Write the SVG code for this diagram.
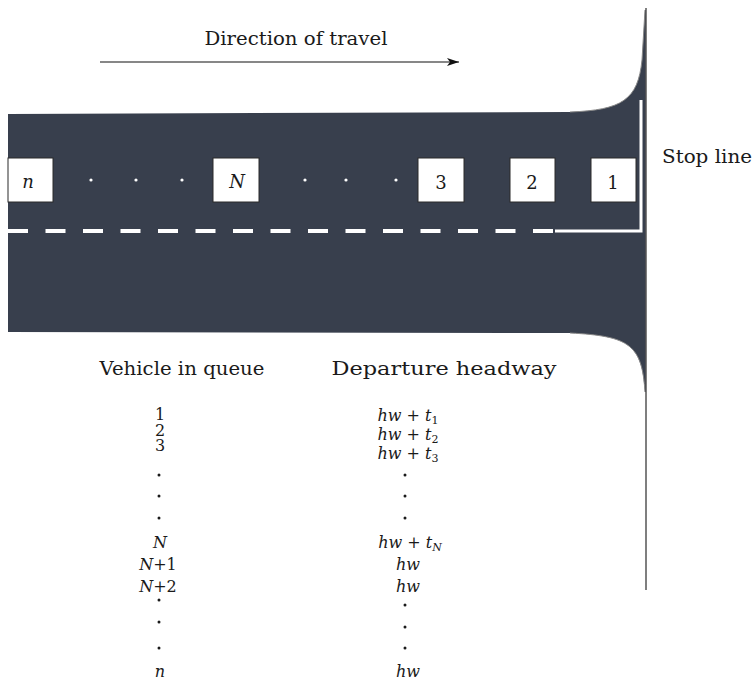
<svg xmlns="http://www.w3.org/2000/svg" width="756" height="684" viewBox="0 0 756 684">
<style>
text{font-family:"DejaVu Serif",serif;fill:#1a1a1a}
.lbl{font-size:18px;text-anchor:middle}
.it{font-style:italic}
.row{font-size:16px;text-anchor:middle}
.box rect{fill:#fff;stroke:#2a2a2a;stroke-width:1}
.dot{fill:#fff}
.bdot{fill:#1a1a1a}
</style>
<defs>
<marker id="ah" viewBox="0 0 12 8" refX="12" refY="4" markerWidth="12" markerHeight="8" markerUnits="userSpaceOnUse" orient="auto">
<path d="M0,0 L12,4 L0,8 L3,4 Z" fill="#111"/>
</marker>
</defs>
<g id="road">
<path d="M8,114 L570,112 C622,110 638,100 642,60 L645,10 L646,10 L646,392 L645,392 C642,345 630,336 570,333 L8,332 Z" fill="#383f4d"/>
<path d="M570,112 C622,110 638,100 642,60 L645,10" fill="none" stroke="#888" stroke-width="1"/>
<path d="M570,333 C630,336 642,345 645,392" fill="none" stroke="#888" stroke-width="1"/>
<line x1="8" y1="231" x2="555" y2="231" stroke="#fff" stroke-width="4" stroke-dasharray="20 17.5"/>
<path d="M555,231 L641,231 L641,100" fill="none" stroke="#fff" stroke-width="3"/>
<line x1="646" y1="8" x2="646" y2="590" stroke="#555" stroke-width="1.5"/>
</g>
<g id="direction">
<line x1="100" y1="62" x2="459" y2="62" stroke="#111" stroke-width="1.2" marker-end="url(#ah)"/>
<text x="296" y="45" class="lbl" textLength="183" lengthAdjust="spacingAndGlyphs">Direction of travel</text>
</g>
<g id="stopline"><text x="662" y="163" font-size="18" textLength="90" lengthAdjust="spacingAndGlyphs">Stop line</text></g>
<g id="veh-n" class="box"><rect x="8" y="158" width="45" height="44"/><text x="28" y="188" class="lbl it">n</text></g>
<g id="veh-N" class="box"><rect x="213" y="158" width="46" height="44"/><text x="237" y="188" class="lbl it">N</text></g>
<g id="veh-3" class="box"><rect x="418" y="158" width="46" height="44"/><text x="441" y="189" class="lbl">3</text></g>
<g id="veh-2" class="box"><rect x="510" y="158" width="45" height="44"/><text x="532" y="189" class="lbl">2</text></g>
<g id="veh-1" class="box"><rect x="591" y="158" width="45" height="44"/><text x="613" y="189" class="lbl">1</text></g>
<g id="road-dots">
<circle class="dot" cx="91" cy="180" r="1.6"/><circle class="dot" cx="136" cy="180" r="1.6"/><circle class="dot" cx="182" cy="180" r="1.6"/>
<circle class="dot" cx="305" cy="180" r="1.6"/><circle class="dot" cx="346" cy="180" r="1.6"/><circle class="dot" cx="396" cy="180" r="1.6"/>
</g>
<g id="table">
<text x="182" y="375" font-size="18" text-anchor="middle" textLength="165" lengthAdjust="spacingAndGlyphs">Vehicle in queue</text>
<text x="444" y="375" font-size="18" text-anchor="middle" textLength="225" lengthAdjust="spacingAndGlyphs">Departure headway</text>
<text x="160" y="420" class="row">1</text>
<text x="160" y="436" class="row">2</text>
<text x="160" y="451" class="row">3</text>
<circle class="bdot" cx="159" cy="475" r="1.5"/><circle class="bdot" cx="159" cy="496" r="1.5"/><circle class="bdot" cx="159" cy="518" r="1.5"/>
<text x="160" y="548" class="row it">N</text>
<text x="158" y="570" class="row"><tspan font-style="italic">N</tspan>+1</text>
<text x="158" y="592" class="row"><tspan font-style="italic">N</tspan>+2</text>
<circle class="bdot" cx="159" cy="600" r="1.5"/><circle class="bdot" cx="159" cy="622" r="1.5"/><circle class="bdot" cx="159" cy="648" r="1.5"/>
<text x="160" y="677" class="row it">n</text>
<text x="408" y="421" class="row"><tspan font-style="italic">hw</tspan> + <tspan font-style="italic">t</tspan><tspan font-size="11" dy="3">1</tspan></text>
<text x="408" y="440" class="row"><tspan font-style="italic">hw</tspan> + <tspan font-style="italic">t</tspan><tspan font-size="11" dy="3">2</tspan></text>
<text x="408" y="459" class="row"><tspan font-style="italic">hw</tspan> + <tspan font-style="italic">t</tspan><tspan font-size="11" dy="3">3</tspan></text>
<circle class="bdot" cx="405" cy="475" r="1.5"/><circle class="bdot" cx="405" cy="496" r="1.5"/><circle class="bdot" cx="405" cy="518" r="1.5"/>
<text x="410" y="548" class="row"><tspan font-style="italic">hw</tspan> + <tspan font-style="italic">t</tspan><tspan font-size="11" font-style="italic" dy="3">N</tspan></text>
<text x="408" y="570" class="row it">hw</text>
<text x="408" y="592" class="row it">hw</text>
<circle class="bdot" cx="405" cy="605" r="1.5"/><circle class="bdot" cx="405" cy="627" r="1.5"/><circle class="bdot" cx="405" cy="648" r="1.5"/>
<text x="408" y="677" class="row it">hw</text>
</g>
</svg>
